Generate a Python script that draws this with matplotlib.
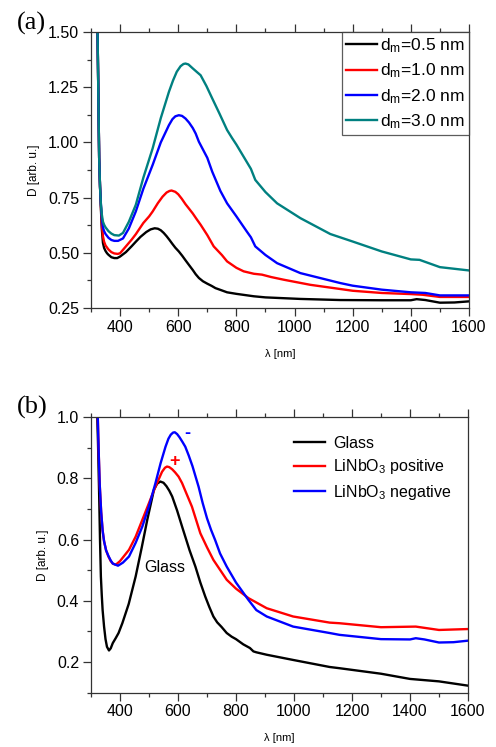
import numpy as np
import matplotlib
matplotlib.use("Agg")
import matplotlib.pyplot as plt
from matplotlib.ticker import MultipleLocator, FormatStrFormatter

plt.rcParams["font.family"] = ["Liberation Sans", "DejaVu Sans"]
plt.rcParams["mathtext.fontset"] = "custom"
plt.rcParams["mathtext.rm"] = "Liberation Sans"
plt.rcParams["mathtext.it"] = "Liberation Sans:italic"
plt.rcParams["mathtext.bf"] = "Liberation Sans:bold"

# ── Panel (a): different metal thickness d_m ──────────────────────────────────
wl_a_05 = [322, 328, 331, 334, 337, 341, 345, 350, 355, 360, 370, 380, 390, 400,
           420, 440, 454, 470, 490, 505, 519, 530, 540, 550, 560, 570, 580, 590,
           602, 614, 625, 638, 650, 660, 671, 685, 700, 715, 728, 745, 768, 800,
           860, 900, 1020, 1157, 1300, 1400, 1420, 1450, 1500, 1550, 1600]
d_a_05 = [1.55, 0.93, 0.80, 0.70, 0.61, 0.545, 0.522, 0.508, 0.498, 0.491, 0.48,
          0.476, 0.476, 0.483, 0.503, 0.53, 0.55, 0.572, 0.594, 0.606, 0.611, 0.609,
          0.602, 0.59, 0.575, 0.558, 0.54, 0.523, 0.506, 0.486, 0.466, 0.443, 0.422,
          0.403, 0.386, 0.371, 0.36, 0.35, 0.34, 0.332, 0.321, 0.314, 0.303, 0.298,
          0.291, 0.286, 0.285, 0.285, 0.29, 0.286, 0.274, 0.275, 0.28]

wl_a_10 = [322, 328, 331, 334, 337, 341, 345, 350, 360, 370, 380, 392, 400, 420,
           440, 454, 480, 500, 512, 530, 546, 560, 570, 577, 590, 600, 612, 625,
           637, 650, 663, 677, 700, 722, 750, 768, 800, 825, 860, 888, 920, 963,
           1054, 1157, 1200, 1300, 1400, 1440, 1500, 1600]
d_a_10 = [1.55, 0.93, 0.80, 0.71, 0.63, 0.575, 0.55, 0.533, 0.515, 0.503, 0.497,
          0.495, 0.498, 0.529, 0.56, 0.584, 0.635, 0.665, 0.687, 0.725, 0.754, 0.773,
          0.78, 0.782, 0.776, 0.765, 0.745, 0.72, 0.70, 0.678, 0.653, 0.627, 0.58,
          0.529, 0.49, 0.461, 0.432, 0.416, 0.405, 0.401, 0.39, 0.378, 0.355, 0.336,
          0.328, 0.318, 0.313, 0.31, 0.30, 0.30]

wl_a_20 = [322, 328, 331, 334, 337, 341, 345, 350, 360, 370, 380, 393, 410, 430,
           454, 480, 512, 540, 568, 580, 590, 602, 613, 625, 637, 650, 660, 671,
           700, 717, 745, 768, 800, 836, 850, 865, 900, 940, 1020, 1157, 1200, 1300,
           1400, 1450, 1500, 1600]
d_a_20 = [1.55, 0.93, 0.80, 0.72, 0.66, 0.615, 0.598, 0.585, 0.568, 0.558, 0.554,
          0.554, 0.565, 0.61, 0.687, 0.79, 0.898, 1.0, 1.078, 1.105, 1.118, 1.123,
          1.12, 1.108, 1.09, 1.065, 1.04, 1.003, 0.93, 0.867, 0.78, 0.724, 0.665,
          0.596, 0.57, 0.529, 0.49, 0.453, 0.408, 0.363, 0.351, 0.333, 0.321, 0.318,
          0.307, 0.307]

wl_a_30 = [322, 328, 331, 334, 337, 341, 345, 350, 360, 370, 380, 396, 410, 430,
           454, 480, 512, 540, 568, 582, 595, 608, 618, 625, 635, 650, 663, 677,
           697, 717, 742, 768, 785, 800, 825, 850, 865, 900, 940, 1020, 1123, 1200,
           1300, 1400, 1430, 1500, 1600]
d_a_30 = [1.55, 0.93, 0.80, 0.72, 0.675, 0.641, 0.627, 0.615, 0.598, 0.587, 0.58,
          0.578, 0.59, 0.64, 0.717, 0.84, 0.973, 1.11, 1.229, 1.28, 1.32, 1.345,
          1.355, 1.357, 1.353, 1.335, 1.32, 1.304, 1.255, 1.199, 1.13, 1.056, 1.02,
          0.99, 0.935, 0.88, 0.83, 0.775, 0.724, 0.657, 0.585, 0.551, 0.506, 0.47,
          0.468, 0.435, 0.42]

# ── Panel (b): glass vs LiNbO3 substrates ────────────────────────────────────
wl_b_glass = [320, 324, 328, 331, 334, 337, 340, 345, 350, 355, 362, 368, 375,
              385, 395, 408, 430, 454, 475, 494, 517, 528, 539, 550, 560, 570,
              580, 597, 614, 640, 660, 677, 694, 708, 722, 735, 750, 768, 785,
              800, 825, 848, 860, 870, 906, 997, 1123, 1157, 1300, 1400, 1500, 1600]
d_b_glass = [1.05, 0.92, 0.75, 0.60, 0.48, 0.42, 0.37, 0.316, 0.275, 0.25, 0.238,
             0.245, 0.262, 0.278, 0.295, 0.327, 0.39, 0.48, 0.575, 0.665, 0.763,
             0.783, 0.79, 0.786, 0.775, 0.76, 0.741, 0.695, 0.643, 0.565, 0.512,
             0.46, 0.414, 0.38, 0.349, 0.33, 0.315, 0.295, 0.283, 0.275, 0.258,
             0.246, 0.235, 0.232, 0.224, 0.207, 0.184, 0.18, 0.162, 0.145, 0.137,
             0.123]

wl_b_pos = [322, 326, 330, 335, 340, 345, 352, 360, 368, 375, 385, 400, 431, 454,
            477, 500, 522, 545, 555, 562, 570, 580, 590, 602, 614, 625, 648, 677,
            700, 722, 768, 800, 843, 906, 997, 1123, 1157, 1300, 1420, 1500, 1600]
d_b_pos = [1.05, 0.90, 0.78, 0.69, 0.63, 0.595, 0.565, 0.545, 0.53, 0.522, 0.518,
           0.53, 0.567, 0.61, 0.665, 0.72, 0.773, 0.822, 0.835, 0.839, 0.837, 0.83,
           0.82, 0.806, 0.785, 0.76, 0.708, 0.621, 0.575, 0.534, 0.469, 0.44,
           0.409, 0.376, 0.349, 0.329, 0.327, 0.314, 0.316, 0.305, 0.308]

wl_b_neg = [322, 326, 330, 335, 340, 345, 352, 360, 368, 375, 393, 410, 431, 454,
            477, 500, 522, 540, 557, 567, 575, 583, 589, 597, 605, 615, 625, 637,
            650, 660, 671, 685, 700, 714, 728, 745, 768, 800, 843, 870, 906, 997,
            1123, 1157, 1300, 1400, 1420, 1450, 1500, 1550, 1600]
d_b_neg = [1.05, 0.90, 0.78, 0.69, 0.63, 0.595, 0.565, 0.547, 0.532, 0.522, 0.515,
           0.525, 0.545, 0.59, 0.643, 0.71, 0.784, 0.85, 0.904, 0.93, 0.943, 0.95,
           0.951, 0.945, 0.935, 0.92, 0.904, 0.875, 0.84, 0.808, 0.773, 0.72, 0.67,
           0.632, 0.599, 0.555, 0.512, 0.46, 0.403, 0.37, 0.349, 0.316, 0.295,
           0.289, 0.275, 0.274, 0.278, 0.274, 0.264, 0.265, 0.27]

labels_a = [r"d$_{\rm m}$=0.5 nm", r"d$_{\rm m}$=1.0 nm",
            r"d$_{\rm m}$=2.0 nm", r"d$_{\rm m}$=3.0 nm"]
labels_b = ["Glass", r"LiNbO$_{\rm 3}$ positive", r"LiNbO$_{\rm 3}$ negative"]

TEAL = "#008080"
LW = 1.7


def style_axis(ax, ymajor, yminor, fmt):
    ax.set_xlim(300, 1600)
    ax.xaxis.set_major_locator(MultipleLocator(200))
    ax.xaxis.set_minor_locator(MultipleLocator(100))
    ax.yaxis.set_major_locator(MultipleLocator(ymajor))
    ax.yaxis.set_minor_locator(MultipleLocator(yminor))
    ax.yaxis.set_major_formatter(FormatStrFormatter(fmt))
    ax.tick_params(which="both", direction="out", top=True, right=False,
                   labelsize=11.5, width=0.9, colors="#333333", labelcolor="black")
    ax.tick_params(which="major", length=5.5, pad=3)
    ax.tick_params(which="minor", length=3)
    for sp in ax.spines.values():
        sp.set_linewidth(0.9)
        sp.set_color("#333333")
    ax.set_xlabel(r"λ [nm]", fontsize=8, labelpad=10)
    ax.set_ylabel("D [arb. u.]", fontsize=8.5, labelpad=6)


fig = plt.figure(figsize=(4.96, 7.47), dpi=100)

# (a)
ax1 = fig.add_axes([0.1835, 0.5877, 0.762, 0.3695])
ax1.plot(wl_a_05, d_a_05, color="black", lw=LW, label=labels_a[0])
ax1.plot(wl_a_10, d_a_10, color="red", lw=LW, label=labels_a[1])
ax1.plot(wl_a_20, d_a_20, color="blue", lw=LW, label=labels_a[2])
ax1.plot(wl_a_30, d_a_30, color=TEAL, lw=LW, label=labels_a[3])
ax1.set_ylim(0.25, 1.50)
style_axis(ax1, 0.25, 0.125, "%.2f")
leg1 = ax1.legend(loc="upper right", fontsize=12.5, frameon=True, fancybox=False,
                  borderaxespad=0, handlelength=1.75, handletextpad=0.2,
                  labelspacing=0.38, borderpad=0.25)
leg1.get_frame().set_edgecolor("#333333")
leg1.get_frame().set_linewidth(0.9)
fig.text(0.034, 0.969, "(a)", fontsize=19, family="Liberation Serif", va="center")

# (b)
ax2 = fig.add_axes([0.1835, 0.0727, 0.760, 0.3687])
ax2.plot(wl_b_glass, d_b_glass, color="black", lw=LW, label=labels_b[0])
ax2.plot(wl_b_pos, d_b_pos, color="red", lw=LW, label=labels_b[1])
ax2.plot(wl_b_neg, d_b_neg, color="blue", lw=LW, label=labels_b[2])
ax2.set_ylim(0.1, 1.0)
style_axis(ax2, 0.2, 0.1, "%.1f")
ax2.legend(loc="upper right", fontsize=11.5, frameon=False, handlelength=1.9,
           handletextpad=0.55, labelspacing=0.4, bbox_to_anchor=(0.995, 0.985))
ax2.text(555, 0.51, "Glass", fontsize=11.5, ha="center", va="center")
ax2.text(589, 0.855, "+", fontsize=13, color="red", ha="center", va="center",
         fontweight="bold")
ax2.text(633, 0.946, "-", fontsize=13, color="blue", ha="center", va="center",
         fontweight="bold")
fig.text(0.034, 0.454, "(b)", fontsize=19, family="Liberation Serif", va="center")

plt.savefig("out.png", dpi=100)
plt.close()
